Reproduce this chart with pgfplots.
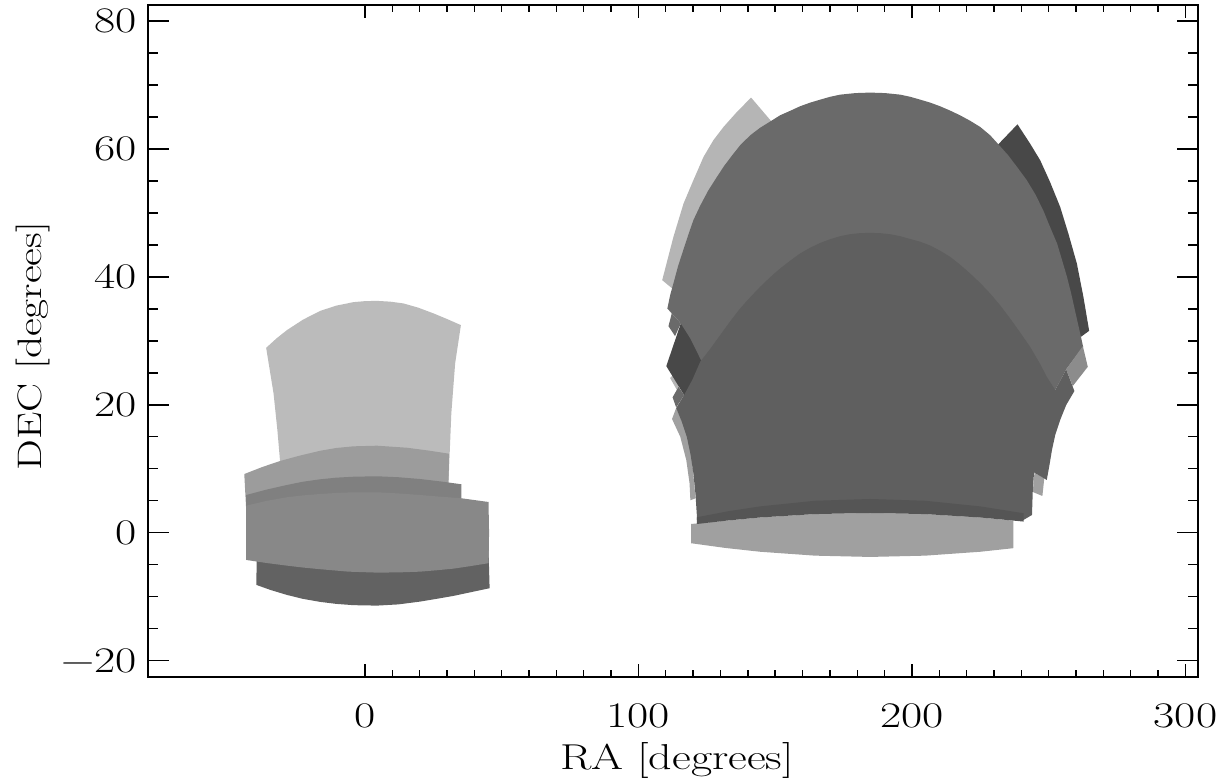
\documentclass[border=0pt]{standalone}
\usepackage{fontspec}
\setmainfont[FakeStretch=1.28]{Latin Modern Roman}
\usepackage{pgfplots}
\pgfplotsset{compat=1.18}
\definecolor{cA}{HTML}{BBBBBB}
\definecolor{cB}{HTML}{9C9C9C}
\definecolor{cC}{HTML}{808080}
\definecolor{cD}{HTML}{888888}
\definecolor{cE}{HTML}{626262}
\definecolor{cF}{HTML}{B5B5B5}
\definecolor{cG}{HTML}{6A6A6A}
\definecolor{cM}{HTML}{5F5F5F}
\definecolor{cH}{HTML}{484848}
\definecolor{cK}{HTML}{555555}
\definecolor{cJ}{HTML}{A0A0A0}
\definecolor{cP}{HTML}{8C8C8C}
\pgfplotsset{base/.style={
  at={(0pt,0pt)},anchor=south west,scale only axis,width=525pt,height=336pt,
  xmin=-79.3,xmax=304.6,ymin=-22.55,ymax=82.5,
  axis line style={line width=0.9pt},
  tick align=inside,
  every tick/.style={black,line width=0.7pt},
  tick label style={font=\fontsize{18}{20}\selectfont},
  label style={font=\fontsize{18}{20}\selectfont},
}}
\begin{document}
\begin{tikzpicture}
\useasboundingbox (-74pt,-50pt) rectangle (538.5pt,338.5pt);
\begin{axis}[base,
  xtick={0,100,200,300},xticklabels={0,100,200,300},minor x tick num=9,ytick=\empty,
  major tick length=6.5pt,minor tick length=3.5pt,
  xticklabel style={yshift=-10pt},
  xlabel={RA [degrees]},xlabel style={xshift=2pt},
]
\addplot[fill=cE,draw=none,forget plot] coordinates {(-39.5,-2.69)(-39.7,-8.15)(-34.6,-8.93)(-28.5,-9.72)(-22.6,-10.34)(-16.3,-10.81)(-10.5,-11.12)(-4.2,-11.32)(4.4,-11.39)(12.2,-11.20)(20.2,-10.76)(26.1,-10.34)(32.4,-9.87)(39.2,-9.25)(45.6,-8.67)(45.2,-2.69)} -- cycle;
\addplot[fill=cA,draw=none,forget plot] coordinates {(-36.1,28.91)(-32.4,30.35)(-28.5,31.68)(-22.6,33.32)(-16.3,34.69)(-10.5,35.50)(-4.2,36.05)(0.1,36.21)(4.4,36.25)(9.2,36.13)(14.1,35.85)(19.5,35.19)(25.1,34.29)(30.1,33.40)(35.1,32.46)(33.0,26.48)(31.6,18.67)(30.6,8.25)(-31.0,8.25)(-31.0,11.11)(-32.0,16.06)(-33.4,21.79)} -- cycle;
\addplot[fill=cB,draw=none,forget plot] coordinates {(-44.1,9.18)(-37.5,10.28)(-31.0,11.22)(-23.7,12.07)(-16.3,12.82)(-10.5,13.25)(-4.2,13.51)(4.4,13.61)(15.4,13.29)(23.1,12.86)(30.7,12.36)(30.6,5.90)(-43.4,3.56)} -- cycle;
\addplot[fill=cC,draw=none,forget plot] coordinates {(-43.4,5.90)(-36.1,6.73)(-28.5,7.47)(-22.6,7.98)(-16.3,8.36)(-10.5,8.61)(-4.2,8.76)(4.4,8.83)(12.2,8.68)(20.2,8.40)(27.9,8.01)(35.3,7.58)(35.3,3.56)(-43.4,2.00)} -- cycle;
\addplot[fill=cD,draw=none,forget plot] coordinates {(-43.4,4.23)(-36.1,4.97)(-28.5,5.55)(-22.6,5.84)(-16.3,6.06)(-10.5,6.22)(-4.2,6.33)(4.4,6.33)(12.2,6.15)(20.2,5.90)(27.5,5.64)(35.3,5.39)(45.2,4.81)(45.4,-0.03)(45.2,-4.76)(38.5,-5.22)(32.4,-5.61)(26.1,-5.87)(20.2,-6.08)(12.2,-6.20)(4.4,-6.23)(-6.1,-6.08)(-16.3,-5.70)(-22.6,-5.44)(-28.5,-5.14)(-36.1,-4.72)(-43.4,-4.25)} -- cycle;
% right group
\addplot[fill=cF,draw=none,forget plot] coordinates {(141.2,68.03)(148.5,64.37)(159.1,58.23)(129.9,33.24)(112.8,38.03)(108.7,39.49)(112.8,46.25)(116.5,51.47)(120.1,55.11)(123.8,58.75)(127.4,61.36)(131.1,63.43)(136.0,65.78)} -- cycle;
\addplot[fill=cF,draw=none,forget plot] coordinates {(111.6,24.18)(114.1,22.31)(115.3,23.40)(113.8,25.12)} -- cycle;
\addplot[fill=cG,draw=none,forget plot] coordinates {(110.6,35.07)(112.2,34.29)(111.0,32.30)(113.4,30.74)(115.5,32.72)} -- cycle;
\addplot[fill=cH,draw=none,forget plot] coordinates {(231.6,60.73)(238.6,63.85)(243.2,60.84)(246.9,58.23)(250.5,54.84)(254.2,50.94)(257.2,46.78)(260.3,42.10)(262.7,36.88)(264.8,31.57)(261.8,30.63)(232.3,22.31)(116.7,21.52)(110.2,26.05)(115.5,32.72)(159.1,51.98)} -- cycle;
\addplot[fill=cG,draw=none,forget plot] coordinates {(112.5,21.17)(113.8,19.60)(116.7,21.52)(114.7,22.82)} -- cycle;
\addplot[fill=cJ,draw=none,forget plot] coordinates {(112.3,17.78)(113.8,19.49)(118.9,14.50)(120.9,5.39)(119.0,5.08)(118.7,7.73)(117.5,11.37)(115.3,15.01)} -- cycle;
\addplot[fill=cG,draw=none,forget plot] coordinates {(110.6,35.07)(111.6,37.14)(112.8,38.97)(114.5,41.67)(116.4,44.17)(118.2,46.52)(120.1,48.86)(122.6,51.13)(125.5,53.47)(128.7,55.62)(131.4,57.37)(134.3,59.01)(137.2,60.57)(140.9,62.14)(144.5,63.31)(148.5,64.37)(151.8,65.26)(155.5,65.96)(159.1,66.67)(162.8,67.24)(166.5,67.71)(170.1,68.15)(173.8,68.49)(179.3,68.73)(184.7,68.81)(190.2,68.73)(195.7,68.49)(199.4,68.15)(203.0,67.71)(206.7,67.24)(210.3,66.67)(214.0,65.99)(217.6,65.26)(221.3,64.40)(225.0,63.43)(228.6,62.14)(231.6,60.73)(235.2,59.01)(238.8,56.98)(242.0,55.11)(245.1,52.92)(248.0,50.42)(250.5,47.81)(253.1,45.19)(254.9,42.61)(256.7,40.00)(258.2,37.46)(260.0,34.02)(261.8,30.63)(262.6,29.07)(256.4,25.54)(252.4,22.31)(123.2,26.73)(118.9,30.43)(115.5,32.72)} -- cycle;
\addplot[fill=cP,draw=none,forget plot] coordinates {(256.4,25.54)(262.5,29.18)(264.3,25.94)(258.8,22.93)} -- cycle;
\addplot[fill=cJ,draw=none,forget plot] coordinates {(244.8,9.39)(248.4,8.51)(247.7,5.75)(244.2,6.37)} -- cycle;
\addplot[fill=cJ,draw=none,forget plot] coordinates {(119.3,1.37)(132.8,1.92)(144.5,2.39)(164.6,2.92)(184.7,3.09)(204.8,2.92)(225.0,2.39)(237.1,1.89)(237.1,-2.41)(225.0,-2.97)(204.8,-3.58)(184.7,-3.78)(164.6,-3.58)(144.5,-2.97)(131.7,-2.37)(119.3,-1.64)} -- cycle;
\addplot[fill=cM,draw=none,forget plot] coordinates {(252.4,22.31)(256.4,25.54)(259.4,22.15)(256.4,19.96)(254.2,17.62)(252.4,15.28)(251.2,12.93)(250.3,10.59)(249.3,8.25)(244.8,9.39)(240.0,10.0)(240.0,17.0)(245.0,22.0)} -- cycle;
\addplot[fill=cM,draw=none,forget plot] coordinates {(113.8,19.49)(116.7,21.52)(119.8,23.98)(122.6,26.73)(126.2,28.71)(129.9,30.90)(133.6,33.08)(137.2,35.07)(140.9,36.83)(144.5,38.44)(148.2,39.96)(151.8,41.31)(155.5,42.53)(159.1,43.66)(162.8,44.56)(166.5,45.31)(170.1,45.89)(173.8,46.36)(177.4,46.67)(181.1,46.84)(184.7,46.88)(188.4,46.83)(192.0,46.67)(195.7,46.36)(199.4,45.92)(203.0,45.50)(206.7,44.90)(210.3,44.09)(214.0,43.13)(217.6,41.91)(221.3,40.53)(225.0,39.02)(228.6,37.41)(232.3,35.54)(235.9,33.50)(239.6,31.29)(243.2,29.07)(246.9,26.37)(249.3,24.38)(252.4,22.31)(249.8,19.49)(248.1,16.57)(246.2,13.56)(244.8,10.28)(244.2,6.69)(243.9,2.78)(240.8,2.0)(184.7,3.56)(121.4,2.0)(121.4,2.51)(120.9,5.86)(120.1,9.29)(119.1,12.15)(117.7,15.01)(115.9,17.31)} -- cycle;
\addplot[fill=cK,draw=none,forget plot] coordinates {(121.4,2.42)(132.8,3.36)(144.5,4.12)(164.6,5.00)(184.7,5.28)(204.8,5.00)(225.0,4.12)(240.8,3.05)(240.8,1.75)(225.0,2.39)(204.8,2.92)(184.7,3.09)(164.6,2.92)(144.5,2.39)(132.8,1.92)(121.4,1.37)} -- cycle;
\end{axis}
\begin{axis}[base,
  axis background/.style={fill=none},
  xtick=\empty,
  ytick={-20,0,20,40,60,80},yticklabels={−20,0,20,40,60,80},minor y tick num=3,
  major tick length=10.5pt,minor tick length=5.25pt,
  yticklabel style={xshift=-2pt},
  ylabel={DEC [degrees]},ylabel style={yshift=-1pt,xshift=-2.5pt,font=\fontsize{17}{19}\selectfont},
]
\end{axis}
\end{tikzpicture}
\end{document}
